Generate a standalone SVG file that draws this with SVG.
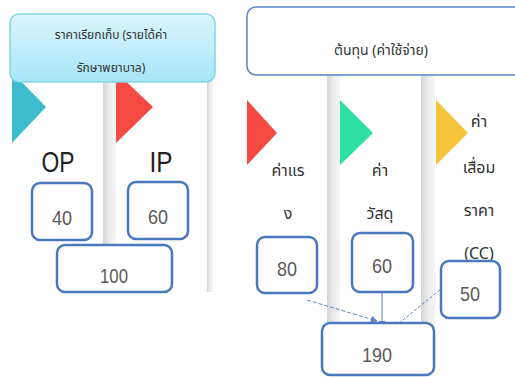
<svg xmlns="http://www.w3.org/2000/svg" width="515" height="377" viewBox="0 0 515 377">
<defs>
<linearGradient id="hdr" x1="0" y1="0" x2="0" y2="1"><stop offset="0" stop-color="#dcf5fc"/><stop offset="1" stop-color="#a6e5f8"/></linearGradient>
<linearGradient id="shd" x1="0" y1="0" x2="1" y2="0"><stop offset="0" stop-color="#d4d4d4"/><stop offset="0.5" stop-color="#ececec"/><stop offset="1" stop-color="#f6f6f6"/></linearGradient>
<marker id="ah" viewBox="0 0 10 10" refX="9" refY="5" markerWidth="7" markerHeight="7" orient="auto"><path d="M0,0 L10,5 L0,10 z" fill="#5b84c4"/></marker>
</defs>
<style>
.card{fill:#ffffff}
.shadow{fill:url(#shd)}
.box{fill:#ffffff;stroke:#4a78bd;stroke-width:2.5}
.num{font-family:"Liberation Sans",sans-serif;font-size:21px;fill:#5a5a5a;text-anchor:middle}
.big{font-family:"Liberation Sans",sans-serif;font-size:30px;fill:#222222;text-anchor:middle}
.th{font-family:"Noto Sans Thai","Noto Sans","DejaVu Sans",sans-serif;fill:#333333;text-anchor:middle}
.conn{stroke:#5b84c4;stroke-width:1;fill:none}
</style>
<rect width="515" height="377" fill="#ffffff"/>

<g id="left-columns">
<rect class="card" x="12" y="80" width="92" height="212"/>
<rect class="shadow" x="103" y="80" width="13" height="212"/>
<rect class="card" x="116" y="80" width="92" height="212"/>
<rect class="shadow" x="207" y="80" width="6" height="212"/>
<polygon points="12,72 46,107 12,143" fill="#3dbccd"/>
<polygon points="116,72 153,107 116,143" fill="#f54a42"/>
<text class="big" x="58" y="172" textLength="33" lengthAdjust="spacingAndGlyphs">OP</text>
<text class="big" x="161" y="172" textLength="23" lengthAdjust="spacingAndGlyphs">IP</text>
</g>

<g id="left-header">
<rect x="10" y="14" width="205" height="68" rx="9" fill="url(#hdr)" stroke="#86d3ea" stroke-width="1.5"/>
<text class="th" x="111" y="39" font-size="12">ราคาเรียกเก็บ (รายได้ค่า</text>
<text class="th" x="111" y="72" font-size="12">รักษาพยาบาล)</text>
</g>

<g id="right-columns">
<rect class="card" x="247" y="74" width="81" height="257"/>
<rect class="shadow" x="327" y="74" width="14" height="257"/>
<rect class="card" x="340" y="74" width="82" height="257"/>
<rect class="shadow" x="421" y="74" width="14" height="257"/>
<rect class="card" x="435" y="74" width="80" height="258"/>
<polygon points="247,100 277,133 247,165" fill="#f54a42"/>
<polygon points="340,100 373,133 340,165" fill="#2ee0a4"/>
<polygon points="436,100 468,133 436,165" fill="#f7c53a"/>
<text class="th" x="288" y="176" font-size="16">ค่าแร</text>
<text class="th" x="288" y="219" font-size="16">ง</text>
<text class="th" x="380" y="176" font-size="16">ค่า</text>
<text class="th" x="380" y="219" font-size="16">วัสดุ</text>
<text class="th" x="479" y="127" font-size="16">ค่า</text>
<text class="th" x="479" y="173" font-size="16">เสื่อม</text>
<text class="th" x="479" y="216" font-size="16">ราคา</text>
<text class="th" x="479" y="259" font-size="16">(CC)</text>
</g>

<g id="right-header">
<rect x="247" y="7" width="276" height="68" rx="9" fill="#ffffff" stroke="#5a86c6" stroke-width="1.5"/>
<text class="th" x="381" y="55" font-size="14">ต้นทุน (ค่าใช้จ่าย)</text>
</g>

<g id="connectors">
<line class="conn" x1="307" y1="300" x2="377" y2="321" stroke-dasharray="4,2" marker-end="url(#ah)"/>
<line class="conn" x1="382" y1="293" x2="382" y2="327" marker-end="url(#ah)"/>
<line class="conn" x1="440" y1="290" x2="393" y2="328" stroke-dasharray="3,2" marker-end="url(#ah)"/>
</g>

<g id="node-40"><rect class="box" x="32" y="183" width="60" height="57" rx="8"/><text class="num" x="62" y="225" textLength="20" lengthAdjust="spacingAndGlyphs">40</text></g>
<g id="node-60a"><rect class="box" x="128" y="182" width="60" height="57" rx="8"/><text class="num" x="158" y="224" textLength="20" lengthAdjust="spacingAndGlyphs">60</text></g>
<g id="node-100"><rect class="box" x="57" y="245" width="115" height="47" rx="8"/><text class="num" x="114" y="283" textLength="28" lengthAdjust="spacingAndGlyphs">100</text></g>
<g id="node-80"><rect class="box" x="257" y="237" width="60" height="56" rx="8"/><text class="num" x="287" y="276" textLength="20" lengthAdjust="spacingAndGlyphs">80</text></g>
<g id="node-60b"><rect class="box" x="352" y="233" width="61" height="59" rx="8"/><text class="num" x="382" y="273" textLength="20" lengthAdjust="spacingAndGlyphs">60</text></g>
<g id="node-50"><rect class="box" x="441" y="261" width="59" height="57" rx="8"/><text class="num" x="470" y="301" textLength="20" lengthAdjust="spacingAndGlyphs">50</text></g>
<g id="node-190"><rect class="box" x="322" y="323" width="112" height="52" rx="8"/><text class="num" x="377" y="362" textLength="30" lengthAdjust="spacingAndGlyphs">190</text></g>
</svg>
